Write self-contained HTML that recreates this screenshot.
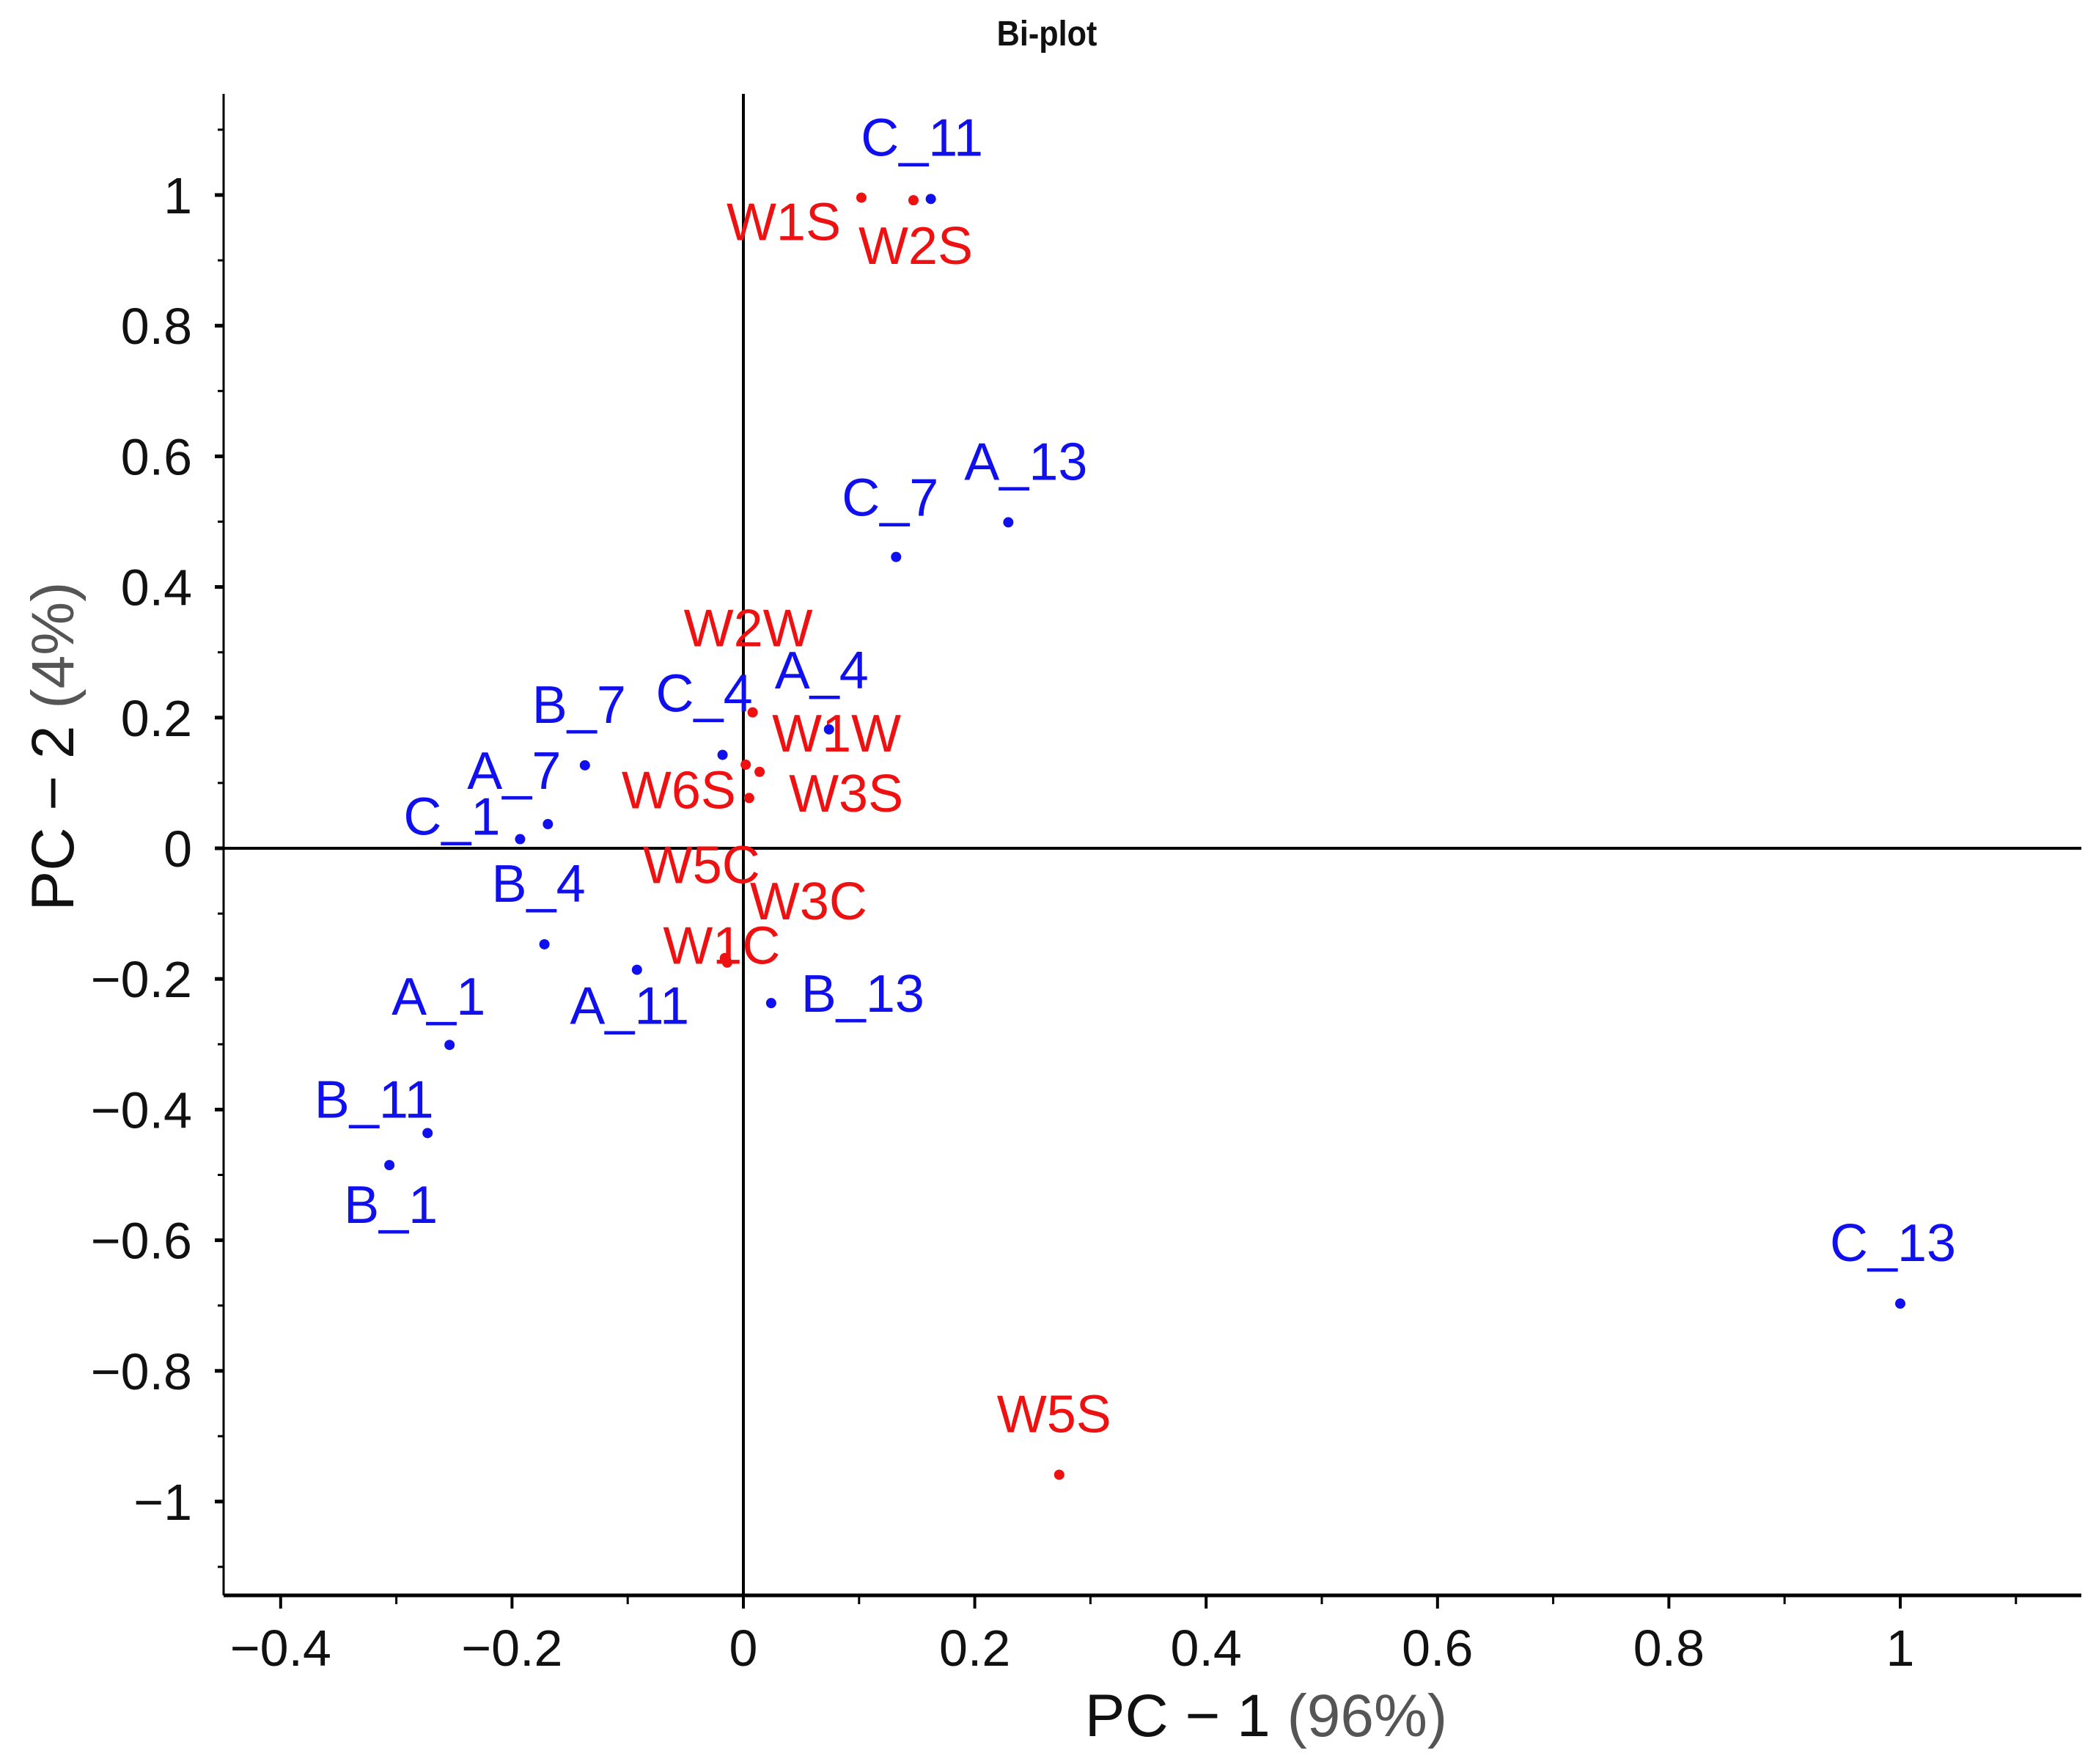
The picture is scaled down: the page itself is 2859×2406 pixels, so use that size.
<!DOCTYPE html>
<html><head><meta charset="utf-8"><style>
html,body{margin:0;padding:0;background:#fff;}
svg{display:block;font-family:"Liberation Sans",sans-serif;}
</style></head><body>
<svg id="chart" width="2859" height="2406" viewBox="0 0 2859 2406" xmlns="http://www.w3.org/2000/svg">
<text x="1428" y="62" font-size="48" font-weight="bold" text-anchor="middle" fill="#111" transform="translate(1428,0) scale(0.9,1) translate(-1428,0)">Bi-plot</text>
<g id="axes"></g>
<g id="marks"></g>
<text x="1727" y="2368" font-size="82" text-anchor="middle" fill="#111">PC − 1 <tspan fill="#555">(96%)</tspan></text>
<text transform="translate(100,1018) rotate(-90)" font-size="82" text-anchor="middle" fill="#111">PC − 2 <tspan fill="#555">(4%)</tspan></text>
</svg>
<script>
const blueNames = ["C_11","A_13","C_7","A_4","C_4","B_7","A_7","C_1","B_4","A_11","B_13","A_1","B_11","B_1","C_13"];
const blueX = [0.162,0.229,0.132,0.074,-0.018,-0.137,-0.169,-0.193,-0.172,-0.092,0.024,-0.254,-0.273,-0.306,1.0];
const blueY = [0.994,0.499,0.446,0.182,0.143,0.127,0.037,0.014,-0.147,-0.186,-0.237,-0.301,-0.436,-0.485,-0.697];
const blueDx = [-12,24,-8,-10,-25,-8,-46,-93,-8,-10,125,-15,-73,2,-10];
const blueDy = [-85,-84,-82,-82,-85,-84,-74,-32,-84,48,-14,-67,-47,53,-84];
const redNames = ["W1S","W2S","W2W","W1W","W3S","W6S","W5C","W3C","W1C","W5S"];
const redX = [0.102,0.147,0.008,0.002,0.014,0.005,-0.016,-0.014,-0.015,0.273];
const redY = [0.996,0.992,0.208,0.128,0.117,0.077,-0.168,-0.175,-0.171,-0.959];
const redDx = [-106,3,-6,124,118,-96,-32,111,-6,-7];
const redDy = [32,61,-116,-44,28,-12,-128,-85,-21,-84];
const xTicks = [-0.4,-0.2,0,0.2,0.4,0.6,0.8,1];
const xTickLabels = ["−0.4","−0.2","0","0.2","0.4","0.6","0.8","1"];
const yTicks = [1,0.8,0.6,0.4,0.2,0,-0.2,-0.4,-0.6,-0.8,-1];
const yTickLabels = ["1","0.8","0.6","0.4","0.2","0","−0.2","−0.4","−0.6","−0.8","−1"];

const L=305,R=2839,T=128,B=2176;
const sx = v => 1014 + v*1578;
const sy = v => 1157 - v*891;
const NS="http://www.w3.org/2000/svg";
const axes=document.getElementById('axes'), marks=document.getElementById('marks');
function mk(tag,attrs,parent){const e=document.createElementNS(NS,tag);for(const k in attrs)e.setAttribute(k,attrs[k]);parent.appendChild(e);return e;}

let e;
e=mk('line',{x1:L,y1:T,x2:L,y2:B,stroke:'#000','stroke-width':3},axes);


e=mk('line',{x1:L,y1:B,x2:R,y2:B,stroke:'#000','stroke-width':5},axes);


e=mk('line',{x1:sx(0),y1:T,x2:sx(0),y2:B,stroke:'#000','stroke-width':4},axes);


e=mk('line',{x1:L,y1:sy(0),x2:R,y2:sy(0),stroke:'#000','stroke-width':4},axes);



for(let i=-11;i<=11;i++){const v=i/10;const major=(i%2===0);
  e=mk('line',{x1:L-(major?12:8),y1:sy(v),x2:L,y2:sy(v),stroke:'#000','stroke-width':major?5:3},axes);
  
  }
for(let i=-4;i<=11;i++){const v=i/10;const major=(i%2===0);
  e=mk('line',{x1:sx(v),y1:B,x2:sx(v),y2:B+(major?18:12),stroke:'#000','stroke-width':major?4:3},axes);
  
  }
xTicks.forEach((v,i)=>{e=mk('text',{x:sx(v),y:2272,'font-size':70,'text-anchor':'middle',fill:'#111'},axes);e.textContent=xTickLabels[i];
  
  });
yTicks.forEach((v,i)=>{e=mk('text',{x:262,y:sy(v)+25,'font-size':70,'text-anchor':'end',fill:'#111'},axes);e.textContent=yTickLabels[i];
  
  });

function series(names,xs,ys,dx,dy,color,kind){
  names.forEach((n,i)=>{const cx=sx(xs[i]),cy=sy(ys[i]);
    e=mk('circle',{cx:cx,cy:cy,r:7,fill:color},marks);
    
    
    e=mk('text',{x:cx+dx[i],y:cy+dy[i]+26,'font-size':72,'text-anchor':'middle',fill:color},marks);e.textContent=n;
    
    });
}
series(blueNames,blueX,blueY,blueDx,blueDy,'#1010ee','sample');
series(redNames,redX,redY,redDx,redDy,'#ee1111','variable');
</script>
</body></html>
